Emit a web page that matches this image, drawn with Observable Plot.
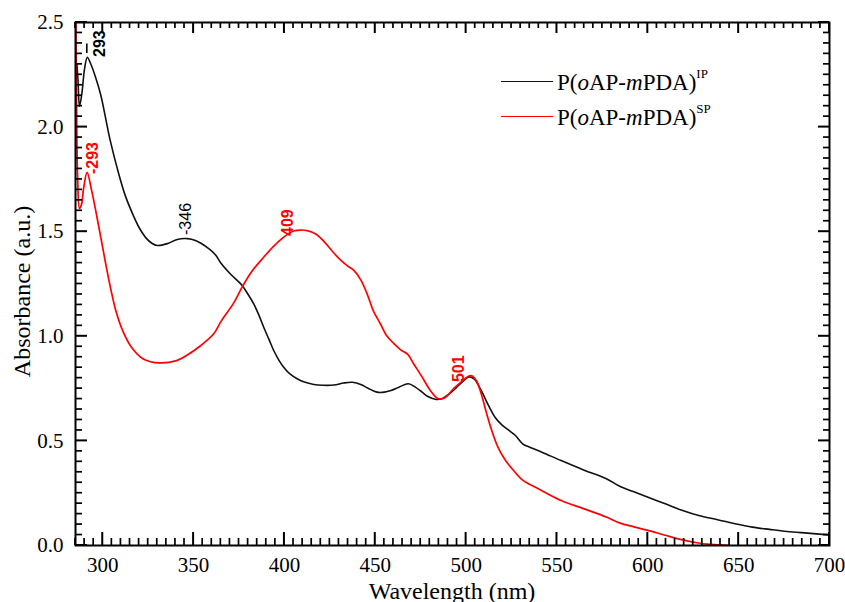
<!DOCTYPE html>
<html><head><meta charset="utf-8">
<script src="https://cdn.jsdelivr.net/npm/d3@7"></script>
<script src="https://cdn.jsdelivr.net/npm/@observablehq/plot@0.6"></script>
<style>
html,body{margin:0;padding:0;background:#fff;}
#chart{position:relative;width:845px;height:602px;overflow:hidden;}
.lg-line{position:absolute;left:501px;width:52px;height:0;}
.lg-text{position:absolute;left:557px;font-family:'Liberation Serif','Times New Roman',serif;font-size:23px;line-height:23px;color:#000;white-space:nowrap;}
.lg-text sup{font-size:13px;vertical-align:12px;line-height:0;}
</style></head><body><div id="chart"></div>
<script>
// P(oAP-mPDA)IP  (black)
const ipWavelength = [285.8,286.4,287.2,288.5,290,291.5,293,296,299,304,309,312.5,316.8,320,324,327,330,335.6,341,346.6,351,357.6,362,365,370,376.7,380,383.1,386,388.6,391.5,394.1,397,399.6,403,407,411,416.2,421,427.2,432.7,437.5,442,446,450.9,455,458.6,463,468.2,472,475.8,479,483.5,487,490,493,497,501.6,504.5,508.3,512,515.9,519.5,523.6,527,531.3,535,542,552.3,565,577.2,584.8,592,600.1,610,619.2,628,638.4,648,657.5,667,676.6,688,699.6];
const ipAbsorbance = [2.30,2.22,2.10,2.16,2.28,2.334,2.31,2.24,2.15,1.94,1.77,1.67,1.578,1.52,1.468,1.445,1.434,1.443,1.463,1.467,1.458,1.424,1.39,1.35,1.30,1.243,1.20,1.155,1.10,1.043,0.985,0.932,0.885,0.852,0.82,0.797,0.781,0.77,0.766,0.767,0.777,0.78,0.77,0.752,0.733,0.733,0.741,0.757,0.773,0.757,0.733,0.712,0.698,0.703,0.72,0.741,0.775,0.806,0.795,0.741,0.675,0.613,0.578,0.55,0.527,0.485,0.47,0.445,0.406,0.36,0.319,0.282,0.258,0.231,0.198,0.167,0.143,0.123,0.104,0.088,0.077,0.067,0.059,0.051];
// P(oAP-mPDA)SP  (red)
const spWavelength = [285.1,285.6,286.2,287.2,288.3,289.5,291.4,293.8,296.6,299.3,302.1,304.8,307.6,311.3,315.8,322.3,331.4,340.6,346.1,353.8,361.1,365,372.1,376.7,382,388.6,394,399.6,405.1,409,412.5,417,421.6,426,430.8,435,438.2,442,445.5,449,452.8,456.5,460.4,464,468,471,475.8,480,484.4,488,493,497,502.5,505.5,508.3,511,514.1,517.5,521.7,526,531.3,540,552.3,565,577.2,584.8,592,600.1,610,619.2,627,634.6,645.1];
const spAbsorbance = [2.6,2.1,1.75,1.611,1.63,1.71,1.784,1.70,1.58,1.455,1.325,1.21,1.11,1.02,0.948,0.892,0.873,0.884,0.908,0.955,1.012,1.07,1.16,1.235,1.31,1.378,1.43,1.474,1.503,1.508,1.505,1.49,1.455,1.41,1.365,1.335,1.315,1.27,1.203,1.12,1.06,1.0,0.964,0.935,0.912,0.87,0.805,0.745,0.703,0.705,0.749,0.78,0.812,0.79,0.725,0.64,0.55,0.47,0.406,0.36,0.311,0.27,0.215,0.175,0.136,0.107,0.09,0.072,0.048,0.027,0.013,0.005,0.0];

const xTicks = [300,350,400,450,500,550,600,650,700];
const yTicks = [0,0.5,1.0,1.5,2.0,2.5];

const peakText = ["293","-346","-293","409","501"];
const peakX = [298.8,346.1,295.1,402.2,496.3];
const peakY = [2.333,1.482,1.773,1.477,0.779];
const peakColor = ["#000","#000","#ff0000","#ff0000","#ff0000"];
const peakWeight = ["bold","normal","bold","bold","bold"];
const dashX = [291.5];
const dashY1 = [2.352];
const dashY2 = [2.397];

const seriesNames = ["IP","SP"];
const seriesColors = ["#111111","#ff0000"];
const xTitle = "Wavelength (nm)";
const yTitle = "Absorbance (a.u.)";

const W = 845, H = 602, mL = 75, mT = 22, mR = 16, mB = 57;
const xDom = [285, 700], yDom = [0, 2.5];

const ip = ipWavelength.map((x, i) => ({x, y: ipAbsorbance[i]}));
const sp = spWavelength.map((x, i) => ({x, y: spAbsorbance[i]}));

const xMinor = d3.range(285, 701, 5).filter(v => v % 50 !== 0);
const yMinor = d3.range(0, 51, 1).map(v => v / 20).filter((v, i) => i % 10 !== 0);

const serif = "'Liberation Serif','Times New Roman',serif";
const sans = "'Liberation Sans',Arial,sans-serif";

const chart = Plot.plot({
  width: W, height: H,
  marginLeft: mL, marginTop: mT, marginRight: mR, marginBottom: mB,
  style: {fontFamily: serif, fontSize: "21px", background: "#fff", color: "#000"},
  x: {domain: xDom},
  y: {domain: yDom},
  marks: [
    Plot.line(ip, {x: "x", y: "y", stroke: seriesColors[0], strokeWidth: 1.6, curve: "catmull-rom", clip: true}),
    Plot.line(sp, {x: "x", y: "y", stroke: seriesColors[1], strokeWidth: 1.7, curve: "catmull-rom", clip: true}),
    Plot.axisX(xTicks, {tickSize: 0, tickPadding: 12, tickFormat: d => String(d), fontSize: 21, fontFamily: serif, label: null}),
    Plot.axisY(yTicks, {tickSize: 0, tickPadding: 12, tickFormat: d3.format(".1f"), fontSize: 21, fontFamily: serif, label: null}),
    Plot.frame({stroke: "#000", strokeWidth: 2})
  ]
});

const svg = d3.select(chart);
const xs = chart.scale("x"), ys = chart.scale("y");

// inward ticks on all four sides, positioned with Plot's own scales
const tg = svg.append("g").attr("stroke", "#000").attr("fill", "none");
const yB = ys.apply(yDom[0]), yT = ys.apply(yDom[1]);
const xL = xs.apply(xDom[0]), xR = xs.apply(xDom[1]);
function addTick(ax, ay, bx, by, sw) {
  tg.append("line").attr("x1", ax).attr("y1", ay).attr("x2", bx).attr("y2", by)
    .attr("stroke", "#000").attr("stroke-width", sw);
}
xMinor.forEach(v => { const p = xs.apply(v); addTick(p, yB, p, yB - 7, 1.7); addTick(p, yT, p, yT + 6, 1.7); });
xTicks.forEach(v => { const p = xs.apply(v); addTick(p, yB, p, yB - 13, 2); addTick(p, yT, p, yT + 11, 2); });
yMinor.forEach(v => { const p = ys.apply(v); addTick(xL, p, xL + 7, p, 1.7); addTick(xR, p, xR - 6, p, 1.7); });
yTicks.forEach(v => { const p = ys.apply(v); addTick(xL, p, xL + 12, p, 2); addTick(xR, p, xR - 11, p, 2); });

// peak dash and peak labels, placed through Plot's scales
dashX.forEach((v, i) => {
  svg.append("line").attr("x1", xs.apply(v)).attr("x2", xs.apply(v))
    .attr("y1", ys.apply(dashY1[i])).attr("y2", ys.apply(dashY2[i]))
    .attr("stroke", "#000").attr("stroke-width", 1.6);
});
peakText.forEach((t, i) => {
  const px = xs.apply(peakX[i]), py = ys.apply(peakY[i]);
  svg.append("text").attr("transform", `translate(${px},${py}) rotate(-90)`)
    .attr("text-anchor", "start").attr("dy", "0.32em")
    .attr("font-family", sans).attr("font-size", 16).attr("font-weight", peakWeight[i])
    .attr("fill", peakColor[i]).text(t);
});

// axis titles
svg.append("text").attr("transform", `translate(${xL - 53},${(yB + yT) / 2 + 8}) rotate(-90)`)
  .attr("text-anchor", "middle").attr("dy", "0.32em")
  .attr("font-family", serif).attr("font-size", 24).attr("fill", "#000").text(yTitle);
svg.append("text").attr("x", (xL + xR) / 2).attr("y", yB + 54)
  .attr("text-anchor", "middle")
  .attr("font-family", serif).attr("font-size", 24).attr("fill", "#000").text(xTitle);

const host = document.getElementById("chart");
host.appendChild(chart);

// legend (HTML overlay inside the plot area)
const legendY = [82, 117];
seriesNames.forEach((name, i) => {
  const y = legendY[i];
  const ln = document.createElement("div");
  ln.className = "lg-line";
  ln.style.top = (y - 1) + "px";
  ln.style.borderTop = "1.7px solid " + seriesColors[i];
  host.appendChild(ln);
  const tx = document.createElement("div");
  tx.className = "lg-text";
  tx.style.top = (y + 8 - 19) + "px";
  tx.innerHTML = "P(<i>o</i>AP-<i>m</i>PDA)<sup>" + name + "</sup>";
  host.appendChild(tx);
});
</script>
</body></html>
